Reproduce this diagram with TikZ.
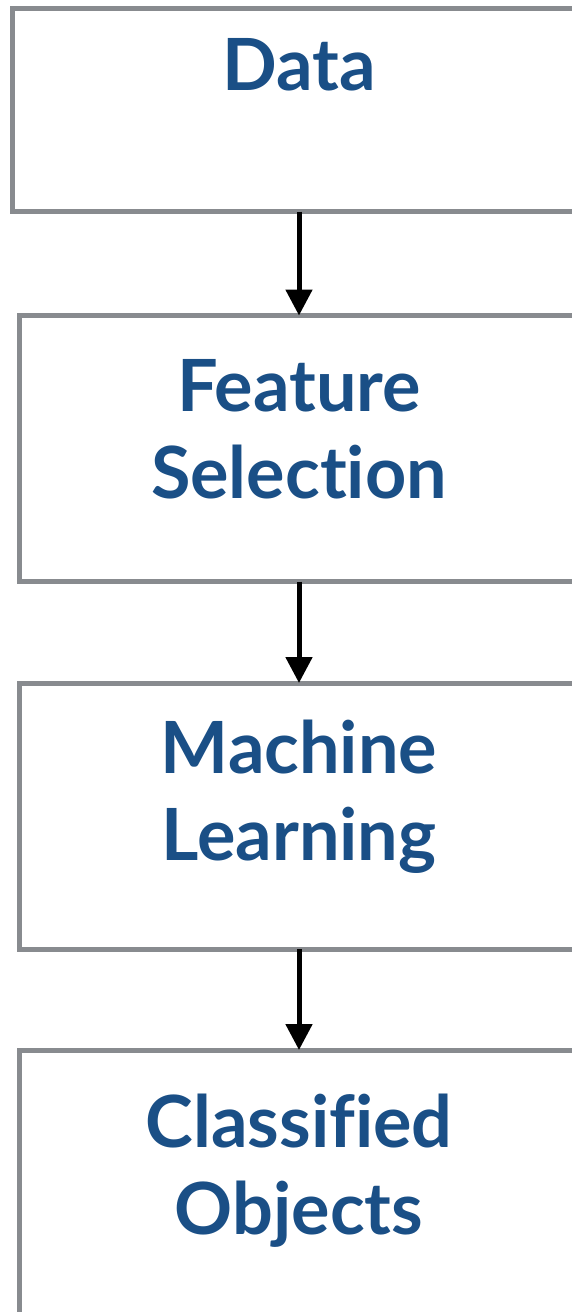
\documentclass[tikz,border=0pt]{standalone}
\usepackage{fontspec}
\setmainfont{Lato}[UprightFont=* Bold, Ligatures=NoCommon, RawFeature=-liga]
\usetikzlibrary{arrows.meta}
\definecolor{boxgray}{HTML}{888B8F}
\definecolor{labelblue}{HTML}{1A4F86}
\tikzset{
  stagebox/.style={draw=boxgray, line width=5pt, rectangle, outer sep=0pt, inner sep=0pt, anchor=north west},
  stagelabel/.style={text=labelblue, font=\fontsize{72}{87}\selectfont, align=center, anchor=base, inner sep=0pt},
  flow/.style={line width=5pt, -{Triangle[width=26pt,length=26pt]}, shorten >=0pt}
}
\begin{document}
\begin{tikzpicture}[x=1pt, y=-1pt]
\useasboundingbox (0,0) rectangle (572,1312);
\clip (0,0) rectangle (572,1312);
% process stages, open to the right
\node[stagebox, minimum width=650pt, minimum height=203.5pt] (data) at (12.5,8) {};
\node[stagebox, minimum width=650pt, minimum height=266pt] (feat) at (19,315.5) {};
\node[stagebox, minimum width=650pt, minimum height=266pt] (ml) at (19,683) {};
\node[stagebox, minimum width=650pt, minimum height=400pt] (cls) at (19,1050) {};
% stage labels (base anchor sits on the last line)
\node[stagelabel] (datat) at (299,90.7) {Data};
\node[stagelabel] (featt) at (299,498) {Feature\\Selection};
\node[stagelabel] (mlt) at (299,860) {Machine\\Learning};
\node[stagelabel] (clst) at (299,1234) {Classified\\Objects};
% flow arrows
\draw[flow] (data.south -| datat) -- (feat.north -| datat);
\draw[flow] (feat.south -| featt) -- (ml.north -| featt);
\draw[flow] (ml.south -| mlt) -- (cls.north -| mlt);
\end{tikzpicture}
\end{document}
